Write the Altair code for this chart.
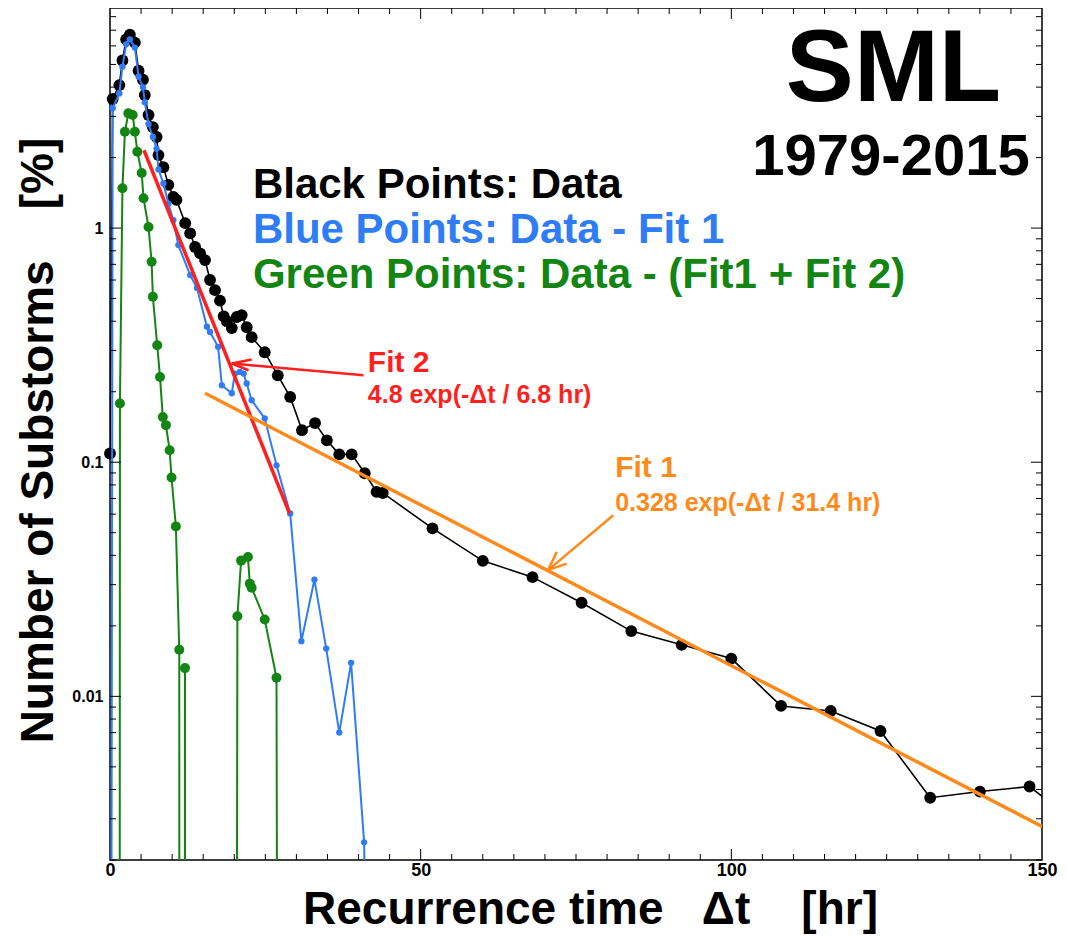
import altair as alt
import pandas as pd

NEG = 1e-7  # value below the plotted range (negative residual)

black_t = [0.0, 0.43, 1.5, 2.0, 2.6, 3.2, 4.0, 4.6, 5.3, 5.6, 6.2, 6.9, 7.5, 7.8, 8.6, 9.4, 10.2, 10.7, 12.1, 12.9,
           13.7, 14.5, 15.3, 16.1, 16.9, 17.7, 18.3, 18.8, 19.6, 20.4, 21.2, 22.0, 22.8, 24.9, 27.0, 29.0, 30.9, 33.0, 34.9, 36.9,
           38.9, 41.0, 42.9, 43.9, 51.9, 60.0, 68.0, 75.9, 83.9, 92.0, 100.0, 108.0, 116.0, 124.0, 132.0, 140.0, 148.0, 156.0]
black_v = [0.109, 3.56, 4.08, 5.2, 6.4, 6.7, 6.2, 4.7, 4.3, 3.7, 3.04, 2.7, 2.45, 2.05, 1.82, 1.53, 1.36, 1.32, 1.05, 0.95,
           0.83, 0.78, 0.73, 0.60, 0.543, 0.49, 0.42, 0.40, 0.374, 0.417, 0.425, 0.377, 0.342, 0.295, 0.235, 0.19, 0.137, 0.147, 0.124, 0.108,
           0.108, 0.0897, 0.0747, 0.0739, 0.0522, 0.0379, 0.0323, 0.0251, 0.019, 0.0166, 0.0145, 0.0091, 0.00866, 0.00711, 0.00369, 0.00392, 0.00412, 0.0028]

blue_t = [0.0, 0.43, 1.5, 2.0, 2.6, 3.2, 4.0, 4.6, 5.3, 5.6, 6.2, 6.9, 7.5, 7.8, 8.6, 9.4, 10.2, 11.0, 12.9, 14.0,
          15.6, 16.1, 17.4, 18.0, 19.6, 20.1, 20.9, 21.5, 22.0, 22.8, 24.9, 26.8, 29.0, 30.8, 32.9, 34.8, 36.9, 38.8, 40.9, 42.9]
blue_v = [NEG, 3.25, 3.76, 4.89, 6.1, 6.4, 5.9, 4.43, 4.0, 3.45, 2.78, 2.45, 2.18, 1.78, 1.55, 1.27, 1.08, 0.846, 0.63, 0.555,
          0.379, 0.36, 0.311, 0.213, 0.197, 0.239, 0.243, 0.239, 0.217, 0.184, 0.154, 0.097, 0.0604, 0.0172, 0.0315, 0.016, 0.0070, 0.0139, 0.00238, NEG]

green_t = [1.5, 1.6, 2.0, 2.4, 2.95, 3.65, 4.0, 4.4, 5.1, 5.4, 6.2, 6.7, 6.9, 7.6, 8.05, 8.5, 9.0, 9.6, 9.9, 10.6,
           11.15, 11.2, 12.0, 12.07, 12.12, 20.2, 20.5, 21.1, 22.2, 22.5, 22.8, 24.9, 26.8, 27.2]
green_v = [NEG, 0.178, 1.48, 2.58, 3.09, 3.04, 2.58, 2.12, 1.72, 1.34, 1.01, 0.718, 0.509, 0.316, 0.231, 0.156, 0.144, 0.1125, 0.086, 0.0532,
           0.0158, NEG, NEG, 0.0132, NEG, NEG, 0.022, 0.038, 0.0394, 0.0303, 0.0291, 0.0213, 0.012, NEG]

fit1_t = [15.3, 150.0]
fit1_v = [0.197, 0.00278]
fit2_t = [5.47, 28.9]
fit2_v = [2.15, 0.0604]

# arrows: segments (tail->tip, wing->tip)
arrow2_seg = ["s", "s", "a", "a", "b", "b"]
arrow2_t = [40.8, 19.6, 22.8, 19.6, 22.3, 19.6]
arrow2_v = [0.2354, 0.264, 0.2748, 0.264, 0.247, 0.264]
arrow1_seg = ["s", "s", "a", "a", "b", "b"]
arrow1_t = [81.0, 70.5, 71.9, 70.5, 73.5, 70.5]
arrow1_v = [0.0594, 0.0346, 0.0414, 0.0346, 0.0369, 0.0346]

x_ticks_minor = [t for t in range(0, 151, 5) if t % 50 != 0]
x_ticks_major = [0, 50, 100, 150]
y_ticks_major = [0.01, 0.1, 1.0]
y_ticks_minor = [m * 10.0 ** e for e in (-3, -2, -1, 0) for m in range(2, 10) if 0.002 <= m * 10.0 ** e <= 8.7]

W, H = 932, 852
FONT = "Liberation Sans"
BLUE = "#2e7cf6"
GREEN = "#128512"
RED = "#ff1f1f"
ORANGE = "#ff8a1c"

xscale = alt.Scale(domain=[0, 150], nice=False, zero=False)
yscale = alt.Scale(type="log", domain=[0.002, 8.71], nice=False)
xaxis = alt.Axis(values=x_ticks_major, format="d", ticks=False, domain=False, grid=False, labelFlush=False,
                 labelFont=FONT, labelFontWeight="bold", labelFontSize=18, labelPadding=1, labelColor="black",
                 title="Recurrence time\u00a0\u00a0\u00a0Δt\u00a0\u00a0\u00a0\u00a0[hr]", titleFont=FONT, titleFontWeight="bold",
                 titleFontSize=46, titleColor="black", titleX=480, titleY=63, titleBaseline="alphabetic")
yaxis = alt.Axis(values=y_ticks_major, format="~g", ticks=False, domain=False, grid=False, labelFlush=False,
                 labelFont=FONT, labelFontWeight="bold", labelFontSize=16, labelPadding=7, labelColor="black",
                 title="Number of Substorms\u00a0\u00a0\u00a0\u00a0[%]", titleFont=FONT, titleFontWeight="bold",
                 titleFontSize=46, titleColor="black", titleX=-58, titleY=432, titleBaseline="alphabetic", titleAngle=270)

X = alt.X("t:Q", scale=xscale, axis=xaxis)
Y = alt.Y("v:Q", scale=yscale, axis=yaxis)


def df(t, v):
    return pd.DataFrame({"t": t, "v": v})


black = df(black_t, black_v)
blue = df(blue_t, blue_v)
green = df(green_t, green_v)

visible = "datum.v > 1e-5 && datum.t <= 150"

black_line = alt.Chart(black).mark_line(color="black", strokeWidth=1.6, clip=True).encode(x=X, y=Y, order="t:Q")
black_pts = alt.Chart(black).transform_filter(visible).mark_circle(color="black", size=140, opacity=1).encode(x=X, y=Y)
blue_line = alt.Chart(blue).mark_line(color=BLUE, strokeWidth=2, clip=True).encode(x=X, y=Y, order="t:Q")
blue_pts = alt.Chart(blue).transform_filter(visible).mark_circle(color=BLUE, size=40, opacity=1).encode(x=X, y=Y)
green_line = alt.Chart(green).mark_line(color=GREEN, strokeWidth=2, clip=True).encode(x=X, y=Y, order="t:Q")
green_pts = alt.Chart(green).transform_filter(visible).mark_circle(color=GREEN, size=100, opacity=1).encode(x=X, y=Y)

fit2 = alt.Chart(df(fit2_t, fit2_v)).mark_line(color=RED, strokeWidth=3.5, clip=True).encode(x=X, y=Y)
fit1 = alt.Chart(df(fit1_t, fit1_v)).mark_line(color=ORANGE, strokeWidth=3.5, clip=True).encode(x=X, y=Y)

arr2 = alt.Chart(pd.DataFrame({"seg": arrow2_seg, "t": arrow2_t, "v": arrow2_v})).mark_line(
    color=RED, strokeWidth=2.5).encode(x=X, y=Y, detail="seg:N")
arr1 = alt.Chart(pd.DataFrame({"seg": arrow1_seg, "t": arrow1_t, "v": arrow1_v})).mark_line(
    color=ORANGE, strokeWidth=2.5).encode(x=X, y=Y, detail="seg:N")


def label(text, t, v, color, size, align="left"):
    return alt.Chart(pd.DataFrame({"t": [t], "v": [v], "txt": [text]})).mark_text(
        font=FONT, fontWeight="bold", fontSize=size, color=color, align=align, baseline="alphabetic"
    ).encode(x=X, y=Y, text="txt:N")


texts = [
    label("SML", 126.1, 3.48, "black", 102, "center"),
    label("1979-2015", 125.7, 1.685, "black", 58, "center"),
    label("Black Points: Data", 23.0, 1.343, "black", 42),
    label("Blue Points: Data - Fit 1", 23.0, 0.863, BLUE, 42),
    label("Green Points: Data - (Fit1 + Fit 2)", 23.0, 0.554, GREEN, 42),
    label("Fit 2", 41.5, 0.2425, RED, 30),
    label("4.8 exp(-Δt / 6.8 hr)", 41.5, 0.179, RED, 25),
    label("Fit 1", 81.3, 0.0865, ORANGE, 30),
    label("0.328 exp(-Δt / 31.4 hr)", 81.3, 0.0619, ORANGE, 25),
]

# inward tick marks on all four sides
xmin_df = pd.DataFrame({"t": x_ticks_minor})
xmaj_df = pd.DataFrame({"t": x_ticks_major[1:-1]})
ymin_df = pd.DataFrame({"v": y_ticks_minor})
ymaj_df = pd.DataFrame({"v": y_ticks_major})
tick_layers = []
for d, ln in ((xmin_df, 6), (xmaj_df, 11)):
    tick_layers.append(alt.Chart(d).mark_rule(color="black", strokeWidth=1).encode(x=X, y=alt.value(H), y2=alt.value(H - ln)))
    tick_layers.append(alt.Chart(d).mark_rule(color="black", strokeWidth=1).encode(x=X, y=alt.value(0), y2=alt.value(ln)))
for d, ln in ((ymin_df, 6), (ymaj_df, 11)):
    tick_layers.append(alt.Chart(d).mark_rule(color="black", strokeWidth=1).encode(y=Y, x=alt.value(0), x2=alt.value(ln)))
    tick_layers.append(alt.Chart(d).mark_rule(color="black", strokeWidth=1).encode(y=Y, x=alt.value(W), x2=alt.value(W - ln)))

chart = alt.layer(
    black_line, black_pts, blue_line, blue_pts, green_line, green_pts, fit2, fit1, arr2, arr1, *texts, *tick_layers
).properties(
    width=W, height=H,
    autosize=alt.AutoSizeParams(type="none"),
    padding={"left": 102, "top": 0, "right": 17, "bottom": 76},
    background="white",
).configure_view(stroke="black", strokeWidth=1.5)

chart.save("out.html", embed_options={"renderer": "svg", "actions": False})
